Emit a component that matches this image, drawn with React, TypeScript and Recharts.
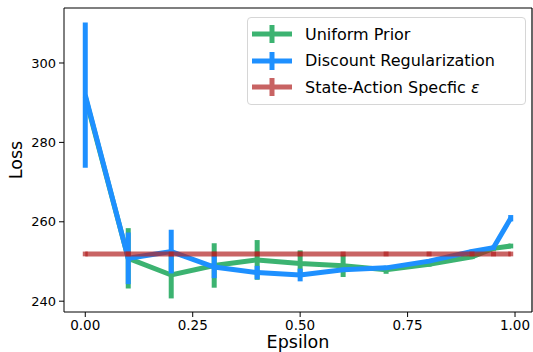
import {
  ComposedChart,
  Line,
  XAxis,
  YAxis,
  ErrorBar,
  ReferenceLine,
} from "recharts";

const epsilon = [0, 0.1, 0.2, 0.3, 0.4, 0.5, 0.6, 0.7, 0.8, 0.9, 0.95, 0.99];

const uniformPrior = [291.5, 250.8, 246.6, 249.0, 250.4, 249.5, 248.9, 247.9, 249.3, 251.2, 253.3, 253.9];
const uniformPriorErr = [0, 7.6, 5.9, 5.6, 5.0, 3.3, 2.8, 1.0, 0.6, 0.6, 0.6, 0.6];

const discountReg = [291.9, 250.8, 252.5, 248.6, 247.2, 246.6, 247.9, 248.4, 250.1, 252.5, 253.5, 260.9];
const discountRegErr = [18.3, 6.5, 5.5, 2.8, 1.7, 1.6, 0.5, 0.5, 0.5, 0.5, 0.5, 0.8];

const stateAction = [251.9, 251.9, 251.9, 251.9, 251.9, 251.9, 251.9, 251.9, 251.9, 251.9, 251.9, 251.9];
const stateActionErr = [0.6, 0.6, 0.6, 0.6, 0.6, 0.6, 0.6, 0.6, 0.6, 0.6, 0.6, 0.6];

const xTicks = [0, 0.25, 0.5, 0.75, 1];
const yTicks = [240, 260, 280, 300];
const xDomain: [number, number] = [-0.0495, 1.0395];
const yDomain: [number, number] = [237.28, 313.85];

const data = epsilon.map((e, i) => ({
  eps: e,
  uniform: uniformPrior[i],
  uniformErr: uniformPriorErr[i],
  discount: discountReg[i],
  discountErr: discountRegErr[i],
  state: stateAction[i],
  stateErr: stateActionErr[i],
}));

const GREEN = "#3cb371";
const BLUE = "#1e90ff";
const RED = "#b22222";
const FONT = "'DejaVu Sans', sans-serif";

const legendItems = [
  { label: "Uniform Prior", color: GREEN, opacity: 1 },
  { label: "Discount Regularization", color: BLUE, opacity: 1 },
  { label: "State-Action Specfic ", color: RED, opacity: 0.7, eps: true },
];

function LegendBox() {
  return (
    <div
      style={{
        position: "absolute",
        left: 247,
        top: 17,
        border: "1px solid #d6d6d6",
        borderRadius: 4,
        background: "rgba(255,255,255,0.8)",
        padding: "3px 0 3px 4px",
        width: 273,
        fontFamily: FONT,
        fontSize: 16,
        color: "#000",
      }}
    >
      {legendItems.map((it) => (
        <div key={it.label} style={{ display: "flex", alignItems: "center", height: 26.5 }}>
          <svg width={40} height={20} style={{ marginRight: 13 }}>
            <g opacity={it.opacity}>
              <line x1={0} y1={10} x2={40} y2={10} stroke={it.color} strokeWidth={5} />
              <line x1={20} y1={1} x2={20} y2={19} stroke={it.color} strokeWidth={5} />
            </g>
          </svg>
          <span>
            {it.label}
            {it.eps ? <i>ε</i> : null}
          </span>
        </div>
      ))}
    </div>
  );
}

export default function App() {
  return (
    <div style={{ position: "absolute", left: 0, top: 0, width: 533, height: 352, background: "#fff" }}>
      <ComposedChart
        width={533}
        height={352}
        data={data}
        margin={{ top: 8, right: 1, bottom: 0, left: 0 }}
      >
        <XAxis
          dataKey="eps"
          type="number"
          domain={xDomain}
          ticks={xTicks}
          tickFormatter={(v: number) => v.toFixed(2)}
          height={40}
          tickSize={5}
          tickMargin={3}
          stroke="#000"
          tick={{ fill: "#000", fontSize: 13.5, fontFamily: FONT }}
          allowDataOverflow
          label={{
            value: "Epsilon",
            position: "insideBottom",
            offset: 4,
            style: { fontSize: 17.5, fontFamily: FONT, fill: "#000" },
          }}
        />
        <YAxis
          domain={yDomain}
          ticks={yTicks}
          width={64}
          tickSize={5}
          tickMargin={3}
          stroke="#000"
          tick={{ fill: "#000", fontSize: 13, fontFamily: FONT }}
          allowDataOverflow
          label={{
            value: "Loss",
            angle: -90,
            position: "insideLeft",
            offset: 16,
            style: { fontSize: 17.5, fontFamily: FONT, fill: "#000", textAnchor: "middle" },
          }}
        />
        {/* top and right spines */}
        <ReferenceLine y={yDomain[1]} stroke="#000" strokeWidth={1.2} />
        <ReferenceLine x={xDomain[1]} stroke="#000" strokeWidth={1.2} />
        <Line
          type="linear"
          dataKey="uniform"
          stroke={GREEN}
          strokeWidth={5}
          dot={false}
          isAnimationActive={false}
        >
          <ErrorBar dataKey="uniformErr" width={0} stroke={GREEN} strokeWidth={5} direction="y" />
        </Line>
        <Line
          type="linear"
          dataKey="discount"
          stroke={BLUE}
          strokeWidth={5}
          dot={false}
          isAnimationActive={false}
        >
          <ErrorBar dataKey="discountErr" width={0} stroke={BLUE} strokeWidth={5} direction="y" />
        </Line>
        <Line
          type="linear"
          dataKey="state"
          stroke={RED}
          strokeOpacity={0.7}
          strokeWidth={5}
          dot={false}
          isAnimationActive={false}
        >
          <ErrorBar
            dataKey="stateErr"
            width={0}
            stroke={RED}
            strokeOpacity={0.7}
            strokeWidth={5}
            direction="y"
          />
        </Line>
      </ComposedChart>
      <LegendBox />
    </div>
  );
}
